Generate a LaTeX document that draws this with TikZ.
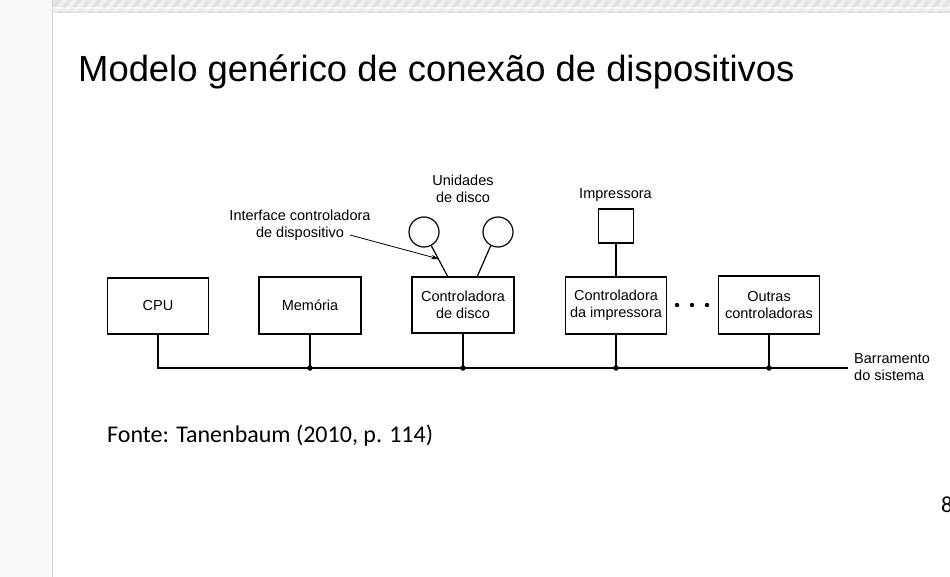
\documentclass[tikz,border=0pt]{standalone}
\usepackage{fontspec}
\setmainfont{Liberation Sans}
\newfontfamily\calib{Carlito}
\usetikzlibrary{arrows.meta}
\definecolor{panelgray}{HTML}{F9F9F9}
\definecolor{panelline}{HTML}{D2D2D2}
\definecolor{bandgray}{HTML}{E3E3E3}
\definecolor{bandstripe}{HTML}{F1F1F1}
\begin{document}
\begin{tikzpicture}[x=1pt,y=-1pt,
  box/.style={draw,line width=1.2pt,inner sep=0pt},
  lbl/.style={font=\fontsize{14.5}{17}\selectfont,align=center,inner sep=0pt},
  wire/.style={line width=1.2pt},
  junc/.style={circle,fill,inner sep=0pt,minimum size=5.5pt}]
\useasboundingbox (0,0) rectangle (950,577);
% background
\fill[white] (0,0) rectangle (950,577);
\fill[panelgray] (0,0) rectangle (52,577);
\draw[panelline,line width=1pt] (52,0) -- (52,577);
\begin{scope}
\clip (52.5,0) rectangle (950,13);
\fill[bandgray] (52.5,0) rectangle (950,13);
\foreach \i in {0,10,...,920}{
  \fill[bandstripe] (52+\i,13) -- (57+\i,13) -- (67+\i,0) -- (62+\i,0) -- cycle;
}
\shade[top color=bandgray!0,bottom color=black!18,opacity=0.5] (52.5,8) rectangle (950,13);
\end{scope}
% title
\node[anchor=base west,inner sep=0pt,font=\fontsize{36.4}{40}\selectfont] (title) at (78,82) {Modelo genérico de conexão de dispositivos};
% boxes
\node[box,minimum width=101pt,minimum height=56pt] (cpu) at (158,306) {};
\node[lbl] at (cpu.center) {CPU};
\node[box,minimum width=102pt,minimum height=57pt] (mem) at (310,305.5) {};
\node[lbl] at (mem.center) {Memória};
\node[box,minimum width=102pt,minimum height=56pt] (cdisk) at (463,305) {};
\node[lbl] at (cdisk.center) {Controladora\\de disco};
\node[box,minimum width=101pt,minimum height=57pt] (cprt) at (616,305.5) {};
\node[lbl] at (cprt.center) {Controladora\\da impressora};
\node[box,minimum width=101pt,minimum height=58pt] (cout) at (769,305) {};
\node[lbl] at (cout.center) {Outras\\controladoras};
% dots
\foreach \x in {677,692,707} \fill (\x,305) circle (2.2pt);
% printer
\node[box,minimum width=35pt,minimum height=34pt] (prt) at (616,226) {};
\node[lbl] (prtl) at (615.5,195) {Impressora};
\draw[wire] (prt.south) -- (prt.south |- cprt.north);
% disks
\node[draw,line width=1.2pt,circle,minimum size=30pt,inner sep=0pt] (d1) at (424,232) {};
\node[draw,line width=1.2pt,circle,minimum size=30pt,inner sep=0pt] (d2) at (498,232) {};
\coordinate (d1b) at (448,277);
\coordinate (d2b) at (477,277);
\draw[wire] (d1.-62) -- (d1b);
\draw[wire] (d2.-118) -- (d2b);
\node[lbl] (units) at (463,188.5) {Unidades\\de disco};
\node[lbl] (iface) at (300,225) {Interface controladora\\de dispositivo};
\coordinate (arrs) at (350,235);
\coordinate (arre) at (439,259);
\draw[line width=0.8pt,-{Stealth[length=8pt,width=4.5pt]}] (arrs) -- (arre);
% bus
\coordinate (busL) at (158,368);
\coordinate (busR) at (848,368);
\draw[wire] (cpu.south) -- (busL) -- (busR);
\draw[wire] (mem.south) -- (mem.south |- busL) node[junc] (j1) {};
\draw[wire] (cdisk.south) -- (cdisk.south |- busL) node[junc] (j2) {};
\draw[wire] (cprt.south) -- (cprt.south |- busL) node[junc] (j3) {};
\draw[wire] (cout.south) -- (cout.south |- busL) node[junc] (j4) {};
\node[lbl,align=left,anchor=west] (busl) at (854,367) {Barramento\\do sistema};
% source
\node[anchor=base west,inner sep=0pt,font=\calib\fontsize{24}{28}\selectfont] (src) at (107,442) {Fonte: Tanenbaum (2010, p. 114)};
\node[anchor=base west,inner sep=0pt,font=\calib\fontsize{23}{28}\selectfont] (pg) at (941,512) {8};
\end{tikzpicture}
\end{document}
